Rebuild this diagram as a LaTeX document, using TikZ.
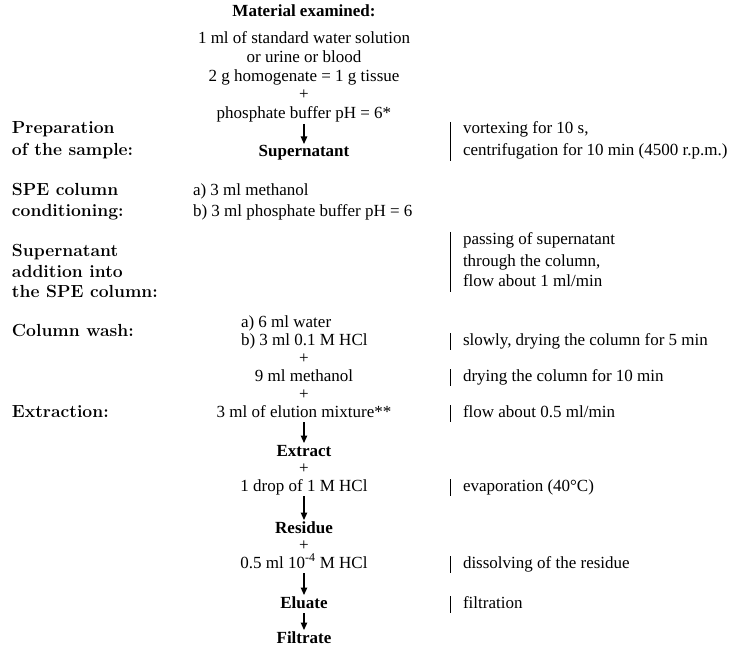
\documentclass[tikz,border=0pt]{standalone}
\usepackage{fontspec}
\setmainfont{Liberation Serif}
\newfontfamily\lmfont{Latin Modern Roman}
\usetikzlibrary{arrows.meta}
\begin{document}
\begin{tikzpicture}[x=1pt,y=-1pt,
  every node/.style={inner sep=0pt, outer sep=0pt, text height=12pt, text depth=4pt},
  txt/.style={font=\fontsize{17}{20}\selectfont},
  btxt/.style={font=\fontsize{17}{20}\selectfont\bfseries},
  lab/.style={font=\fontsize{17.5}{21}\lmfont\bfseries, anchor=west},
  note/.style={font=\fontsize{17}{20}\selectfont, anchor=west},
  arr/.style={line width=1.2pt, -{Triangle[length=7.5pt,width=6.5pt]}, shorten <=1pt, shorten >=1pt},
  bar/.style={line width=0.8pt}
]
\useasboundingbox (0,0) rectangle (731,647);

% material
\node[btxt] (mat) at (304,13) {Material examined:};
\node[txt] (m1) at (304,40) {1 ml of standard water solution};
\node[txt] (m2) at (304,59) {or urine or blood};
\node[txt] (m3) at (304,78) {2 g homogenate = 1 g tissue};
\node[txt] (p1) at (304,96) {+};
\node[txt] (buf) at (304,115) {phosphate buffer pH = 6*};
\node[btxt] (sup) at (304,153) {Supernatant};
\draw[arr] (buf) -- (sup);

% preparation
\node[lab] (prep1) at (12,130) {Preparation};
\node[lab] (prep2) at (12,152) {of the sample:};
\node[note] (v1) at (463,130) {vortexing for 10 s,};
\node[note] (v2) at (463,152) {centrifugation for 10 min (4500 r.p.m.)};
\draw[bar] ([xshift=-13pt]v1.north west) -- ([xshift=-13pt,yshift=-1pt]v2.south west);

% conditioning
\node[lab] (spe1) at (12,192) {SPE column};
\node[lab] (spe2) at (12,213) {conditioning:};
\node[txt,anchor=west] (ca) at (193,192) {a) 3 ml methanol};
\node[txt,anchor=west] (cb) at (193,213) {b) 3 ml phosphate buffer pH = 6};

% supernatant addition
\node[lab] (sa1) at (12,252) {Supernatant};
\node[lab] (sa2) at (12,273) {addition into};
\node[lab] (sa3) at (12,294) {the SPE column:};
\node[note] (pa1) at (463,240) {passing of supernatant};
\node[note] (pa2) at (463,262) {through the column,};
\node[note] (pa3) at (463,283) {flow about 1 ml/min};
\draw[bar] ([xshift=-13pt]pa1.north west) -- ([xshift=-13pt,yshift=-1pt]pa3.south west);

% column wash
\node[lab] (cw) at (12,332) {Column wash:};
\node[txt,anchor=west] (wa) at (241,323) {a) 6 ml water};
\node[txt,anchor=west] (wb) at (241,341) {b) 3 ml 0.1 M HCl};
\node[note] (sl) at (463,341) {slowly, drying the column for 5 min};
\draw[bar] ([xshift=-13pt]sl.north west) -- ([xshift=-13pt,yshift=-1pt]sl.south west);
\node[txt] (p2) at (304,359) {+};
\node[txt] (meth) at (304,377) {9 ml methanol};
\node[note] (dr) at (463,377) {drying the column for 10 min};
\draw[bar] ([xshift=-13pt]dr.north west) -- ([xshift=-13pt,yshift=-1pt]dr.south west);
\node[txt] (p3) at (304,395) {+};

% extraction
\node[lab] (ex) at (12,413) {Extraction:};
\node[txt] (elu) at (304,413) {3 ml of elution mixture**};
\node[note] (fl) at (463,413) {flow about 0.5 ml/min};
\draw[bar] ([xshift=-13pt]fl.north west) -- ([xshift=-13pt,yshift=-1pt]fl.south west);
\node[btxt] (ext) at (304,452) {Extract};
\draw[arr] (elu) -- (ext);
\node[txt] (p4) at (304,469) {+};
\node[txt] (drop) at (304,487) {1 drop of 1 M HCl};
\node[note] (ev) at (463,487) {evaporation (40°C)};
\draw[bar] ([xshift=-13pt]ev.north west) -- ([xshift=-13pt,yshift=-1pt]ev.south west);
\node[btxt] (res) at (304,529) {Residue};
\draw[arr] (drop) -- (res);
\node[txt] (p5) at (304,546) {+};
\node[txt] (half) at (304,564) {0.5 ml 10\textsuperscript{-4} M HCl};
\node[note] (dis) at (463,564) {dissolving of the residue};
\draw[bar] ([xshift=-13pt]dis.north west) -- ([xshift=-13pt,yshift=-1pt]dis.south west);
\node[btxt] (elt) at (304,604) {Eluate};
\draw[arr] (half) -- (elt);
\node[note] (fi) at (463,604) {filtration};
\draw[bar] ([xshift=-13pt]fi.north west) -- ([xshift=-13pt,yshift=-1pt]fi.south west);
\node[btxt] (fil) at (304,639) {Filtrate};
\draw[arr] (elt) -- (fil);
\end{tikzpicture}
\end{document}
